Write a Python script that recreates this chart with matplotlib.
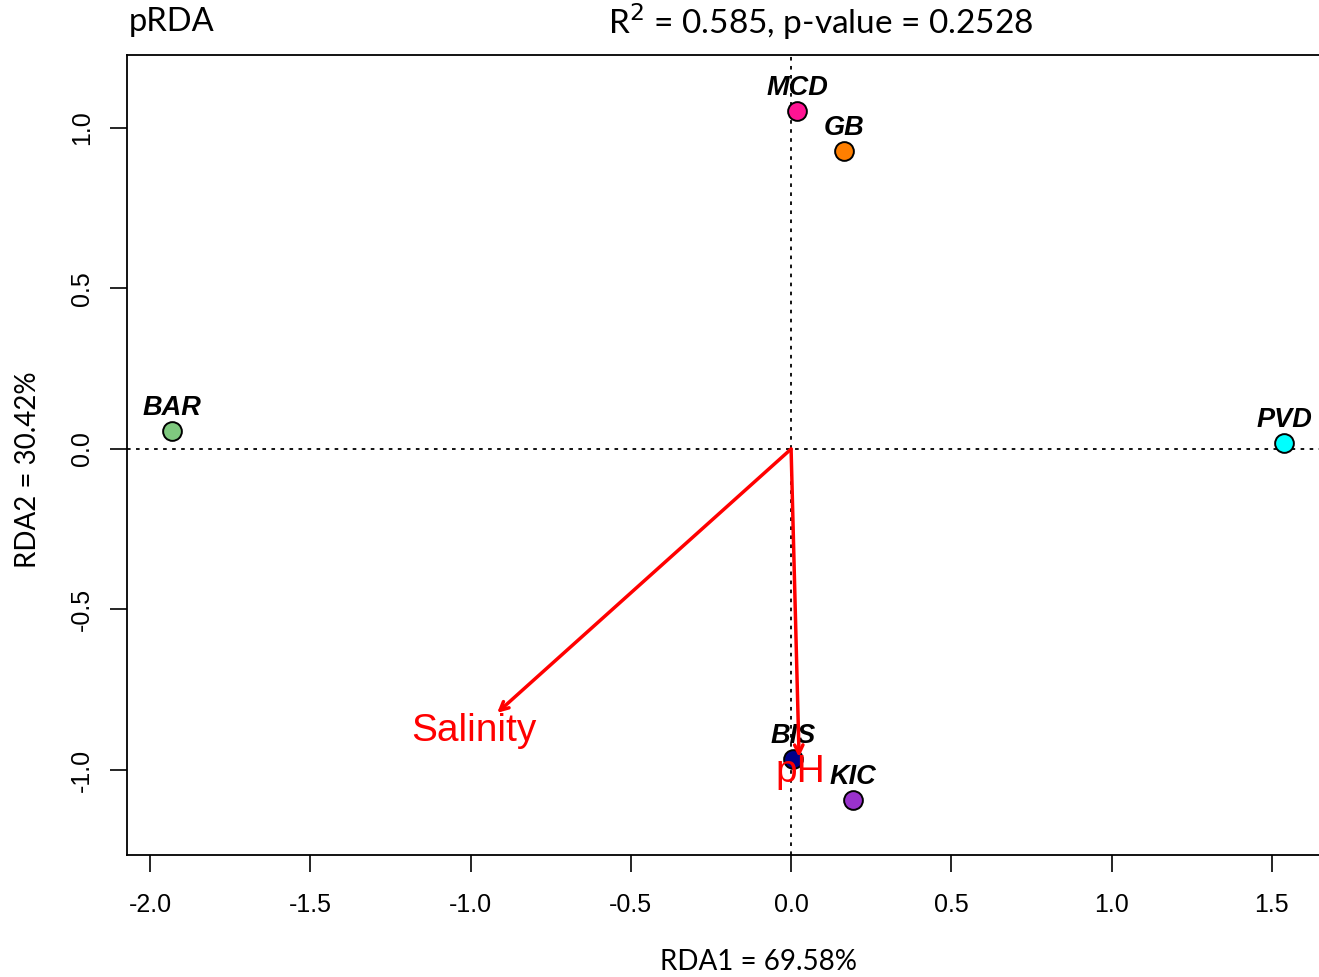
import numpy as np
import matplotlib
matplotlib.use("Agg")
import matplotlib.pyplot as plt

# site scores (RDA1, RDA2)
sites = ["MCD", "GB", "BAR", "PVD", "BIS", "KIC"]
rda1 = [0.019, 0.165, -1.931, 1.538, 0.006, 0.193]
rda2 = [1.053, 0.928, 0.056, 0.019, -0.966, -1.093]
site_colors = ["#FF1493", "#FF7F00", "#7FC97F", "#00FFFF", "#00008B", "#9932CC"]

# environmental vectors
env_vars = ["Salinity", "pH"]
env_x = [-0.917, 0.025]
env_y = [-0.822, -0.960]
env_lab_x = [-0.989, 0.028]
env_lab_y = [-0.879, -1.006]

W, H = 1319, 977
fig = plt.figure(figsize=(W / 100, H / 100), dpi=100)
# plot box: left 127, top 55, bottom 855, right runs off the page
ax = fig.add_axes([127 / W, (H - 855) / H, (1336 - 127) / W, 800 / H])
ax.set_xlim(-2.0718, 1.7)
ax.set_ylim(-1.2648, 1.2274)

ax.axhline(0, color="black", ls=(0, (2, 3)), lw=1.3, zorder=1)
ax.axvline(0, color="black", ls=(0, (2, 3)), lw=1.3, zorder=1)

for name, x, y, c in zip(sites, rda1, rda2, site_colors):
    ax.plot(x, y, "o", ms=13.5, mfc=c, mec="black", mew=1.4, zorder=3)
    ax.annotate(name, (x, y), xytext=(0, 7), textcoords="offset points",
                ha="center", va="bottom", fontsize=19.5, fontweight="bold",
                fontstyle="italic", family="Liberation Sans", zorder=2)

for name, x, y, lx, ly in zip(env_vars, env_x, env_y, env_lab_x, env_lab_y):
    ax.annotate("", xy=(x, y), xytext=(0, 0),
                arrowprops=dict(arrowstyle="->,head_length=0.6,head_width=0.3",
                                color="red", lw=2.5, shrinkA=0, shrinkB=0),
                zorder=4)
    ax.text(lx, ly, name, color="red", fontsize=28, ha="center", va="center",
            family="Liberation Sans", zorder=5)

ax.set_xticks([-2.0, -1.5, -1.0, -0.5, 0.0, 0.5, 1.0, 1.5])
ax.set_yticks([-1.0, -0.5, 0.0, 0.5, 1.0])
ax.set_xticklabels(["-2.0", "-1.5", "-1.0", "-0.5", "0.0", "0.5", "1.0", "1.5"])
ax.set_yticklabels(["-1.0", "-0.5", "0.0", "0.5", "1.0"], rotation=90, va="center")
for lab in ax.get_xticklabels() + ax.get_yticklabels():
    lab.set_family("Liberation Sans")
    lab.set_fontsize(18)
ax.tick_params(direction="out", length=12, width=1.2)
ax.tick_params(axis="x", pad=15)
ax.tick_params(axis="y", pad=12)
for s in ax.spines.values():
    s.set_linewidth(1.3)

fig.text(129 / W, 1 - 22 / H, "pRDA", fontsize=23.5, family="Lato",
         ha="left", va="center")
fig.text(821 / W, 1 - 22 / H, r"R$^2$ = 0.585, p-value = 0.2528", fontsize=24,
         family="Lato", ha="center", va="center")
fig.text(758 / W, 1 - 962 / H, "RDA1 = 69.58%", fontsize=20, family="Lato",
         ha="center", va="center")
fig.text(28 / W, 1 - 470 / H, "RDA2 = 30.42%", fontsize=20, family="Lato",
         ha="center", va="center", rotation=90)

fig.savefig("out.png", dpi=100)
